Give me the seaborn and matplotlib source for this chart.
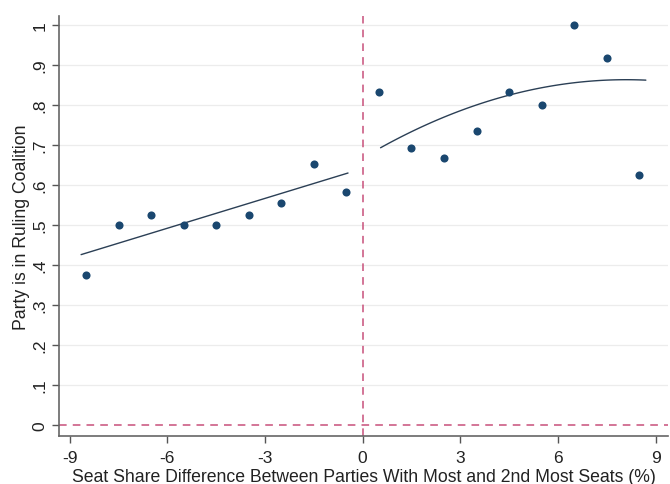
import matplotlib
matplotlib.use("Agg")
import matplotlib.pyplot as plt
import seaborn as sns
import numpy as np
import pandas as pd
from matplotlib.ticker import FuncFormatter

# Data (bin means)
x_left = [-8.5, -7.5, -6.5, -5.5, -4.5, -3.5, -2.5, -1.5, -0.5]
y_left = [0.375, 0.5, 0.524, 0.5, 0.5, 0.525, 0.554, 0.652, 0.583]
x_right = [0.5, 1.5, 2.5, 3.5, 4.5, 5.5, 6.5, 7.5, 8.5]
y_right = [0.833, 0.692, 0.667, 0.735, 0.833, 0.8, 1.0, 0.917, 0.625]
# Fitted values
fit_left_x = [-8.65, -4.5, -0.45]
fit_left_y = [0.426, 0.529, 0.63]
fit_right_x = [0.55, 2.5, 4.5, 6.5, 8.7]
fit_right_y = [0.694, 0.767, 0.827, 0.855, 0.862]
x_ticks = [-9, -6, -3, 0, 3, 6, 9]
y_ticks = [0, 0.1, 0.2, 0.3, 0.4, 0.5, 0.6, 0.7, 0.8, 0.9, 1.0]
x_label = "Seat Share Difference Between Parties With Most and 2nd Most Seats (%)"
y_label = "Party is in Ruling Coalition"

sns.set_theme(style="white")
plt.rcParams['font.family'] = ['Liberation Sans', 'DejaVu Sans']

points = pd.DataFrame({"x": x_left + x_right, "y": y_left + y_right})
fit_l = pd.DataFrame({"x": fit_left_x, "y": fit_left_y})
fit_r = pd.DataFrame({"x": fit_right_x, "y": fit_right_y})

navy = "#1a476f"
line_c = "#2b3f55"
dash_c = "#c8507a"

fig = plt.figure(figsize=(6.7, 4.85), dpi=100)
ax = fig.add_axes([0.088, 0.099, 0.909, 0.866])

for yv in y_ticks[1:]:
    ax.axhline(yv, color="#ececec", lw=0.9, zorder=0)

ax.axvline(0, color=dash_c, lw=1.1, ls=(0, (5, 4)), zorder=1)
ax.axhline(0, color=dash_c, lw=1.1, ls=(0, (5, 4)), zorder=1)

sns.regplot(data=fit_l, x="x", y="y", order=1, ci=None, scatter=False,
            truncate=True, ax=ax, line_kws=dict(color=line_c, lw=1.0))
sns.regplot(data=fit_r, x="x", y="y", order=2, ci=None, scatter=False,
            truncate=True, ax=ax, line_kws=dict(color=line_c, lw=1.0))
sns.scatterplot(data=points, x="x", y="y", ax=ax,
                color=navy, s=34, edgecolor=navy, linewidth=0, zorder=3)

ax.set_xlim(-9.33, 9.38)
ax.set_ylim(-0.0275, 1.0225)
ax.set_xticks(x_ticks)
ax.set_yticks(y_ticks)
ax.xaxis.set_major_formatter(FuncFormatter(lambda v, p: f"{int(round(v))}"))

def yfmt(v, p):
    if abs(v) < 1e-9:
        return "0"
    if abs(v - 1) < 1e-9:
        return "1"
    return f"{v:.1f}".lstrip("0")

ax.yaxis.set_major_formatter(FuncFormatter(yfmt))
ax.tick_params(axis="both", which="major", length=5, width=1, color="#555555",
               labelsize=12.5, labelcolor="#222222", direction="out")
ax.tick_params(axis="x", bottom=True, pad=5)
ax.tick_params(axis="y", left=True, pad=3)
for lbl in ax.get_yticklabels():
    lbl.set_rotation(90)
    lbl.set_va("center")

for s in ["top", "right"]:
    ax.spines[s].set_visible(False)
for s in ["left", "bottom"]:
    ax.spines[s].set_color("#666666")
    ax.spines[s].set_linewidth(1.2)

ax.set_xlabel(x_label, fontsize=12.7, color="#222222", labelpad=2)
ax.set_ylabel(y_label, fontsize=12.7, color="#222222", labelpad=2)

fig.savefig("out.png", dpi=100, facecolor="white")
